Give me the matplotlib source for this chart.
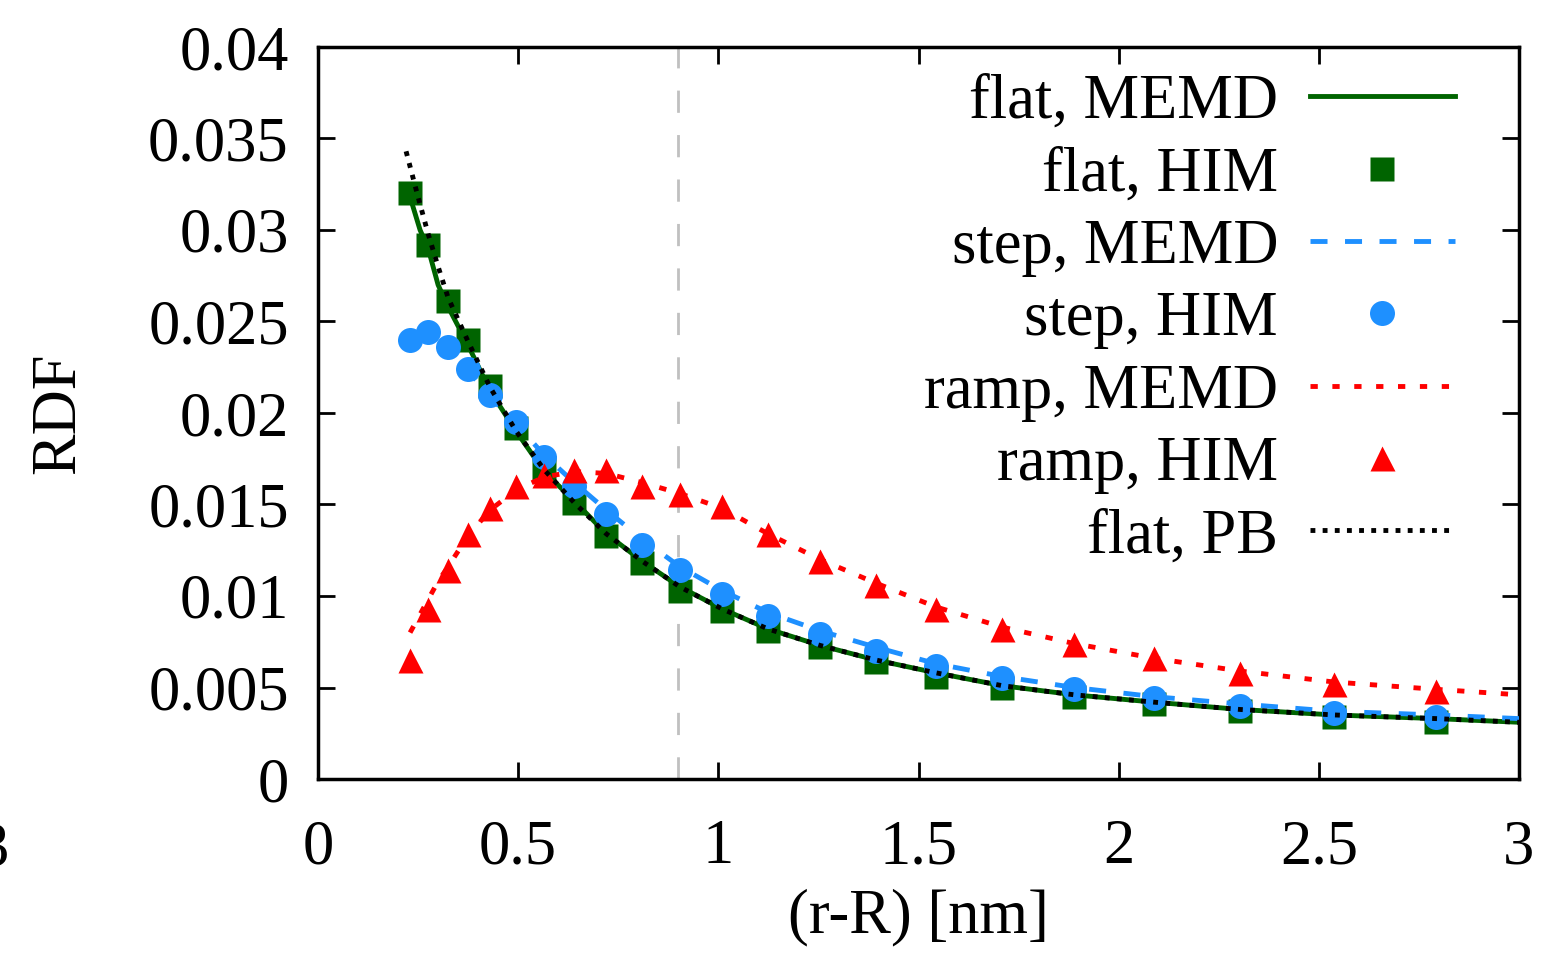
import matplotlib.pyplot as plt
import numpy as np

plt.rcParams['font.family'] = ['Liberation Serif', 'DejaVu Serif']

# ======================
# data
# ======================
r_him = [0.230, 0.275, 0.325, 0.375, 0.430, 0.495, 0.565, 0.640, 0.720, 0.810, 0.904,
         1.009, 1.124, 1.254, 1.394, 1.544, 1.709, 1.889, 2.088, 2.303, 2.538, 2.793]

flat_him = [0.0320, 0.0292, 0.0261, 0.0240, 0.0215, 0.0192, 0.0170, 0.0151, 0.0133, 0.0118, 0.0103,
            0.0092, 0.0081, 0.0072, 0.0064, 0.0056, 0.0050, 0.0045, 0.0041, 0.0037, 0.0034, 0.0031]
step_him = [0.0240, 0.0244, 0.0236, 0.0224, 0.0210, 0.0195, 0.0176, 0.0160, 0.0145, 0.0128, 0.0114,
            0.0101, 0.0089, 0.0079, 0.0070, 0.0062, 0.0055, 0.0049, 0.0044, 0.0040, 0.0036, 0.0034]
ramp_him = [0.0065, 0.0093, 0.0114, 0.0134, 0.0148, 0.0160, 0.0166, 0.0169, 0.0169, 0.0160, 0.0156,
            0.0149, 0.0134, 0.0119, 0.0106, 0.0093, 0.0082, 0.0074, 0.0066, 0.0058, 0.0052, 0.0048]

r_memd = [0.230, 0.255, 0.275, 0.300, 0.325, 0.375, 0.430, 0.495, 0.565, 0.640, 0.720, 0.810, 0.904,
          1.009, 1.124, 1.254, 1.394, 1.544, 1.709, 1.889, 2.088, 2.303, 2.538, 2.793, 3.0]
flat_memd = [0.0318, 0.0300, 0.0290, 0.0270, 0.0258, 0.0237, 0.0212, 0.0190, 0.0168, 0.0152, 0.0134,
             0.0119, 0.0105, 0.0093, 0.0082, 0.0073, 0.0065, 0.0058, 0.0051, 0.0046, 0.0042, 0.0038,
             0.0035, 0.0033, 0.0031]
step_memd = [0.0240, 0.0243, 0.0243, 0.0240, 0.0235, 0.0223, 0.0209, 0.0194, 0.0177, 0.0162, 0.0147,
             0.0131, 0.0116, 0.0103, 0.0091, 0.0081, 0.0072, 0.0063, 0.0056, 0.0050, 0.0045, 0.0041,
             0.0037, 0.0035, 0.0033]
ramp_memd = [0.0080, 0.0090, 0.0098, 0.0108, 0.0116, 0.0133, 0.0147, 0.0158, 0.0165, 0.0168, 0.0167,
             0.0162, 0.0156, 0.0148, 0.0134, 0.0120, 0.0107, 0.0094, 0.0083, 0.0074, 0.0066, 0.0059,
             0.0053, 0.0049, 0.0046]

r_pb = [0.220, 0.250, 0.275, 0.300, 0.325, 0.375, 0.430, 0.495, 0.565, 0.640, 0.720, 0.810, 0.904,
        1.009, 1.124, 1.254, 1.394, 1.544, 1.709, 1.889, 2.088, 2.303, 2.538, 2.793, 3.0]
flat_pb = [0.0343, 0.0318, 0.0298, 0.0280, 0.0263, 0.0239, 0.0214, 0.0190, 0.0169, 0.0151, 0.0134,
           0.0119, 0.0105, 0.0093, 0.0082, 0.0073, 0.0065, 0.0058, 0.0051, 0.0046, 0.0042, 0.0038,
           0.0035, 0.0033, 0.0031]

cutoff = 0.9

xticks = [0, 0.5, 1, 1.5, 2, 2.5, 3]
xticklabels = ['0', '0.5', '1', '1.5', '2', '2.5', '3']
yticks = [0, 0.005, 0.01, 0.015, 0.02, 0.025, 0.03, 0.035, 0.04]
yticklabels = ['0', '0.005', '0.01', '0.015', '0.02', '0.025', '0.03', '0.035', '0.04']

green = '#006400'
blue = '#1e90ff'
red = '#ff0000'
fs = 45

# ======================
# plot
# ======================
fig = plt.figure(figsize=(15.47, 9.55), dpi=100)
ax = fig.add_axes([318 / 1547, 1 - 779 / 955, (1519 - 318) / 1547, (779 - 47) / 955])

ax.axvline(cutoff, color='#c0c0c0', lw=2, ls=(0, (8, 8)), zorder=1)

ax.plot(r_memd, flat_memd, '-', color=green, lw=3.5, label='flat, MEMD', zorder=2)
ax.plot(r_him, flat_him, 's', color=green, ms=17, mec='none', label='flat, HIM', zorder=3)
ax.plot(r_memd, step_memd, color=blue, lw=3.5, ls=(0, (3.5, 3.6)), label='step, MEMD', zorder=4)
ax.plot(r_him, step_him, 'o', color=blue, ms=18, mec='none', label='step, HIM', zorder=5)
ax.plot(r_memd, ramp_memd, color=red, lw=3.5, ls=(0, (1.5, 3)), label='ramp, MEMD', zorder=6)
ax.plot(r_him, ramp_him, '^', color=red, ms=18, mec='none', label='ramp, HIM', zorder=7)
ax.plot(r_pb, flat_pb, color='black', lw=3.5, ls=(0, (1, 1.5)), label='flat, PB', zorder=8)

ax.set_xlim(0, 3)
ax.set_ylim(0, 0.04)
ax.set_xticks(xticks)
ax.set_xticklabels(xticklabels)
ax.set_yticks(yticks)
ax.set_yticklabels(yticklabels)
ax.tick_params(direction='in', length=12, width=2, labelsize=fs, top=True, right=True)
ax.tick_params(axis='y', pad=21)
ax.tick_params(axis='x', pad=29)
for s in ax.spines.values():
    s.set_linewidth(2.5)

ax.set_xlabel('(r-R) [nm]', fontsize=fs)
ax.set_ylabel('RDF', fontsize=fs)
ax.xaxis.set_label_coords(0.5, -0.149)
ax.yaxis.set_label_coords(-0.1917, 0.5)

leg = ax.legend(loc='upper right', bbox_to_anchor=(0.9467, 0.963), frameon=False, fontsize=fs,
                markerfirst=False, handlelength=2.32, labelspacing=0.23, handletextpad=0.51,
                borderaxespad=0, borderpad=0)

# clipped tick label at the left edge
fig.text(9 / 1547, 1 - 850 / 955, '3', fontsize=fs, ha='right', va='center')

fig.savefig('out.png', dpi=100)
